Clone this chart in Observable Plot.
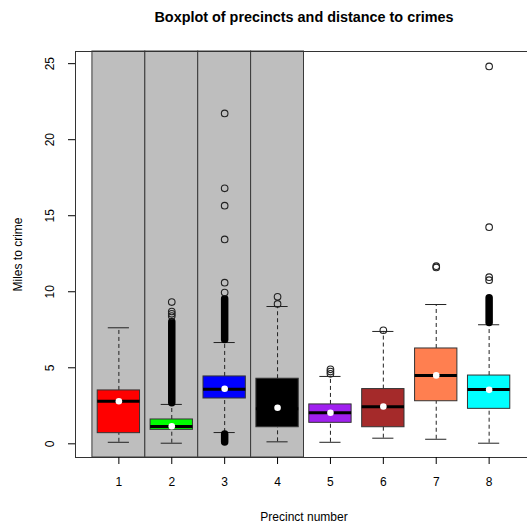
<!DOCTYPE html>
<html><head><meta charset="utf-8">
<script src="https://cdn.jsdelivr.net/npm/d3@7"></script>
<script src="https://cdn.jsdelivr.net/npm/@observablehq/plot@0.6"></script>
<style>html,body{margin:0;padding:0;overflow:hidden;background:#fff;} #chart{width:527px;height:527px;overflow:hidden;} #chart svg{max-width:none !important;}</style>
</head><body><div id="chart"></div>
<script>
const titleText = "Boxplot of precincts and distance to crimes";
const xTitle = "Precinct number";
const yTitle = "Miles to crime";
const precincts = [1, 2, 3, 4, 5, 6, 7, 8];
const boxColors = ["#FF0000", "#00FF00", "#0000FF", "#000000", "#A020F0", "#A52A2A", "#FF7F50", "#00FFFF"];
const shadedPrecincts = [1, 2, 3, 4];
const whiskerLow = [0.10, 0.04, 0.74, 0.13, 0.10, 0.37, 0.30, 0.04];
const q1 = [0.70, 0.92, 2.98, 1.09, 1.38, 1.09, 2.80, 2.30];
const medians = [2.80, 1.14, 3.59, 2.30, 2.04, 2.43, 4.49, 3.57];
const q3 = [3.51, 1.60, 4.43, 4.28, 2.59, 3.60, 6.27, 4.49];
const whiskerHigh = [7.63, 2.59, 6.66, 9.03, 4.43, 7.39, 9.16, 7.83];
const means = [2.80, 1.16, 3.62, 2.37, 2.04, 2.45, 4.50, 3.55];
// individual outliers
const outlierPrecinct = [2, 2, 2, 2, 3, 3, 3, 3, 3, 3, 4, 4, 5, 5, 5, 6, 7, 7, 8, 8, 8, 8];
const outlierValue = [8.4, 8.55, 8.7, 9.32, 9.95, 10.6, 13.44, 15.66, 16.8, 21.73, 9.2, 9.67, 4.6, 4.75, 4.9, 7.47, 11.6, 11.68, 10.76, 10.96, 14.25, 24.82];
// runs of overlapping outliers that merge into a solid column
const densePrecinct = [2, 3, 3, 8];
const denseLow = [2.66, 6.83, 0.08, 7.95];
const denseHigh = [8.0, 9.5, 0.62, 9.57];
const yTicks = [0, 5, 10, 15, 20, 25];

const rows = precincts.map((p, i) => ({p, lo: whiskerLow[i], q1: q1[i], med: medians[i], q3: q3[i], hi: whiskerHigh[i], mean: means[i], color: boxColors[i]}));
const outliers = outlierPrecinct.map((p, i) => ({p, v: outlierValue[i]}));
const dense = densePrecinct.map((p, i) => ({p, lo: denseLow[i], hi: denseHigh[i]}));

const xDomain = [0.18, 8.82];
const yDomain = [-0.9, 25.8];
const hw = 0.4, sw = 0.2;
const font = "Liberation Sans, Arial, Helvetica, sans-serif";

const chart = Plot.plot({
  width: 532, height: 527,
  marginLeft: 75, marginRight: 0, marginTop: 51, marginBottom: 70,
  x: {domain: xDomain},
  y: {domain: yDomain},
  color: {type: "identity"},
  style: {fontFamily: font, fontSize: "12px", background: "white", color: "black", maxWidth: "none"},
  marks: [
    Plot.rect(shadedPrecincts, {x1: p => p - 0.5, x2: p => p + 0.5, y1: () => yDomain[0], y2: () => yDomain[1], fill: "#BEBEBE", stroke: "#3a3a3a", strokeWidth: 1}),
    Plot.ruleX(rows, {x: "p", y1: "q3", y2: "hi", stroke: "#222", strokeDasharray: "4,3"}),
    Plot.ruleX(rows, {x: "p", y1: "lo", y2: "q1", stroke: "#222", strokeDasharray: "4,3"}),
    Plot.ruleY(rows, {y: "hi", x1: d => d.p - sw, x2: d => d.p + sw, stroke: "#222"}),
    Plot.ruleY(rows, {y: "lo", x1: d => d.p - sw, x2: d => d.p + sw, stroke: "#222"}),
    Plot.rect(rows, {x1: d => d.p - hw, x2: d => d.p + hw, y1: "q1", y2: "q3", fill: d => d.color, stroke: "#333", strokeWidth: 1}),
    Plot.ruleY(rows, {y: "med", x1: d => d.p - hw, x2: d => d.p + hw, stroke: "black", strokeWidth: 3}),
    Plot.ruleX(dense, {x: "p", y1: "lo", y2: "hi", stroke: "black", strokeWidth: 7.5, strokeLinecap: "round"}),
    Plot.dot(outliers, {x: "p", y: "v", r: 3.3, stroke: "#222", strokeWidth: 1.1, fill: "none"}),
    Plot.dot(rows, {x: "p", y: "mean", r: 3.3, fill: "white", stroke: "none"}),
    Plot.frame({stroke: "#333"}),
    Plot.axisY(yTicks, {tickSize: 7, tickPadding: 15, tickRotate: -90, fontSize: 12, label: null}),
    Plot.axisX(precincts, {tickSize: 7, tickPadding: 13, fontSize: 12, label: null}),
    Plot.text([titleText], {text: d => d, frameAnchor: "top", lineAnchor: "middle", dy: -34, fontWeight: "bold", fontSize: 14.4}),
    Plot.text([xTitle], {text: d => d, frameAnchor: "bottom", lineAnchor: "middle", dy: 60, fontSize: 12}),
    Plot.text([yTitle], {text: d => d, frameAnchor: "left", textAnchor: "middle", lineAnchor: "middle", dx: -57, rotate: -90, fontSize: 12})
  ]
});
document.getElementById("chart").appendChild(chart);
</script>
</body></html>
